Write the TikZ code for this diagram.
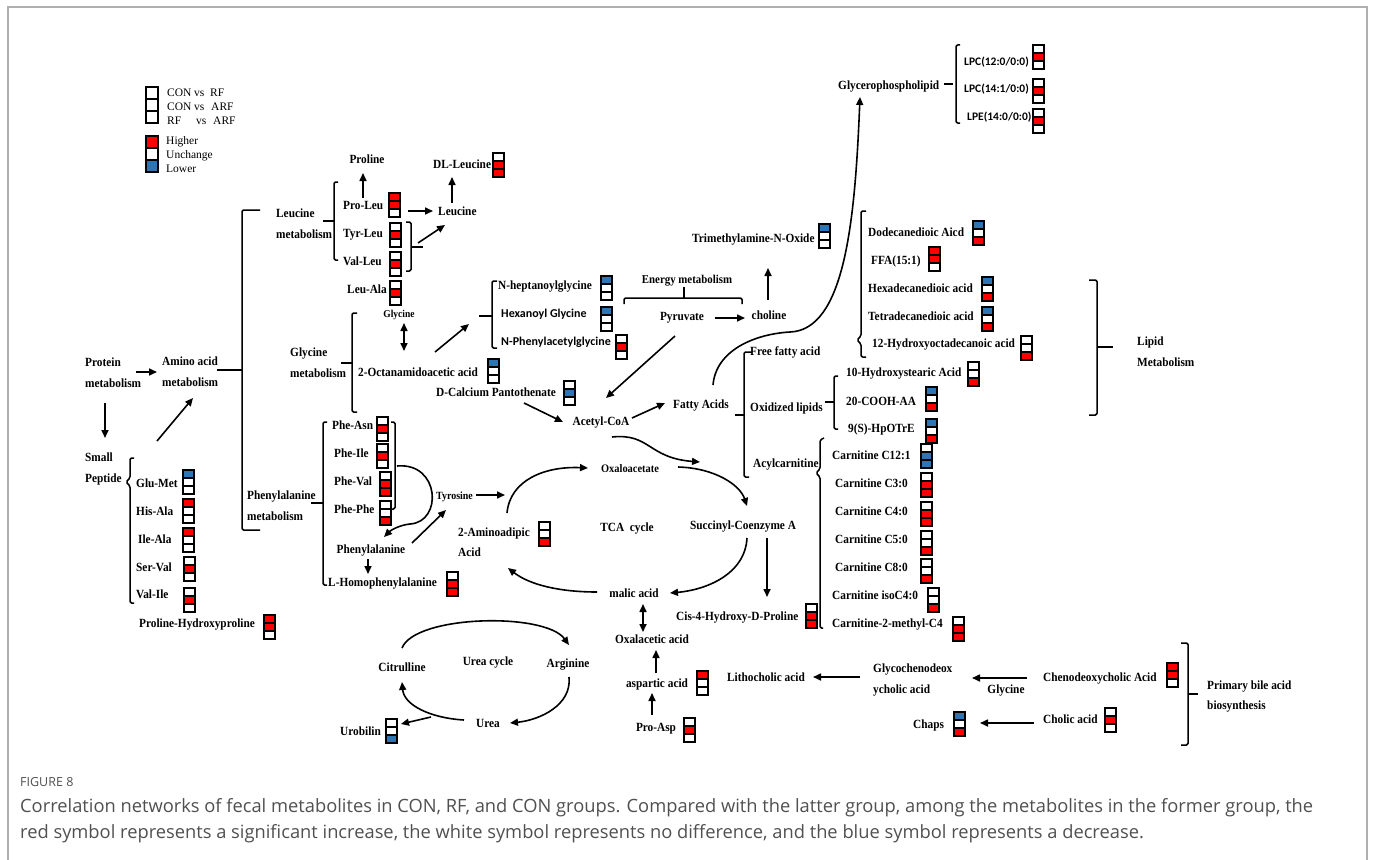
\documentclass[tikz,border=0pt]{standalone}
\usepackage{fontspec}
\setmainfont{Liberation Serif}
\newfontfamily\lbfont{Liberation Serif}[FakeStretch=0.905]
\newfontfamily\sfbold{Carlito}
\newfontfamily\capfont{Open Sans}
\usetikzlibrary{arrows.meta}
\definecolor{R}{RGB}{255,0,0}
\definecolor{W}{RGB}{255,255,255}
\definecolor{B}{RGB}{46,117,182}
\definecolor{capgray}{RGB}{80,80,80}
\definecolor{framegray}{RGB}{175,175,175}
\tikzset{
  lb/.style={font=\lbfont\fontsize{12.5}{14}\selectfont\bfseries, inner sep=0pt, text height=8.5pt, text depth=0pt, anchor=west},
  lbc/.style={lb, anchor=center},
  fs/.style={font=\lbfont\fontsize{#1}{14}\selectfont\bfseries},
  sfl/.style={lb, font=\sfbold\fontsize{12}{14}\selectfont\bfseries},
  lg/.style={font=\fontsize{11.5}{13}\selectfont, inner sep=0pt, text height=8pt, text depth=0pt, anchor=west},
  arr/.style={line width=1.6pt, -{Triangle[length=8pt,width=7pt]}},
  darr/.style={line width=1.6pt, {Triangle[length=8pt,width=7pt]}-{Triangle[length=8pt,width=7pt]}},
  brk/.style={line width=1.5pt, line join=round, rounded corners=1.5pt},
  pics/tri/.style n args={3}{code={
    \fill[#1] (0,0) rectangle (11,8);
    \fill[#2] (0,8) rectangle (11,16);
    \fill[#3] (0,16) rectangle (11,24);
    \draw[line width=1.2pt] (0,0) rectangle (11,24) (0,8) -- (11,8) (0,16) -- (11,16);
  }},
  pics/leg/.style n args={3}{code={
    \fill[#1] (0,0) rectangle (12,12);
    \fill[#2] (0,12) rectangle (12,24);
    \fill[#3] (0,24) rectangle (12,36);
    \draw[line width=1.2pt] (0,0) rectangle (12,36) (0,12) -- (12,12) (0,24) -- (12,24);
  }},
}
\begin{document}
\begin{tikzpicture}[x=1pt,y=-1pt]
\useasboundingbox (0,0) rectangle (1375,859);
\fill[white] (0,0) rectangle (1375,859);
\draw[framegray, line width=1.5pt] (8,880) -- (8,7) -- (1367,7) -- (1367,880);

% ---------- legend
\pic at (146,87) {leg={W}{W}{W}};
\pic at (146,136) {leg={R}{W}{B}};
\node[lg] (l1a) at (167,92) {CON}; \node[lg] (l1b) at (194,92) {vs}; \node[lg] (l1c) at (210,92) {RF};
\node[lg] (l2a) at (167,106) {CON}; \node[lg] (l2b) at (194,106) {vs}; \node[lg] (l2c) at (211,106) {ARF};
\node[lg] (l3a) at (167,120) {RF}; \node[lg] (l3b) at (196,120) {vs}; \node[lg] (l3c) at (213,120) {ARF};
\node[lg] (hi) at (166,140) {Higher};
\node[lg] (un) at (166,154) {Unchange};
\node[lg] (lo) at (166,168) {Lower};

% ---------- protein / amino acid
\node[lb] (prot1) at (85,362) {Protein};
\node[lb] (prot2) at (85,383) {metabolism};
\node[lb] (amino1) at (162,361) {Amino acid};
\node[lb] (amino2) at (162,382) {metabolism};
\node[lb] (small1) at (85,457) {Small};
\node[lb] (small2) at (85,478) {Peptide};
\draw[arr] (136,372) -- (157,372);
\draw[arr] (105,403) -- (105,438);
\draw[arr] (157,441) -- (193,398);

% small peptides
\draw[brk] (134,458) -- (130,458) -- (130,478) -- (126,482) -- (130,486) -- (130,603) -- (134,603);
\node[lb] (glumet) at (136,483) {Glu-Met}; \pic at (183,470) {tri={B}{W}{W}};
\node[lb] (hisala) at (136,511) {His-Ala}; \pic at (183,499) {tri={R}{W}{W}};
\node[lb] (ileala) at (138,539) {Ile-Ala}; \pic at (183,528) {tri={R}{W}{W}};
\node[lb] (serval) at (136,567) {Ser-Val}; \pic at (184,557) {tri={W}{R}{W}};
\node[lb] (valile) at (136,594) {Val-Ile}; \pic at (184,588) {tri={W}{R}{W}};
\node[lb] (prohyp) at (139,623) {Proline-Hydroxyproline}; \pic at (264,615) {tri={R}{R}{W}};

% amino acid bracket
\draw[brk] (260,210) -- (242,210) -- (242,530) -- (260,530);
\draw[brk] (217,370) -- (242,370);

% ---------- leucine
\node[lb] (leumet1) at (276,213) {Leucine};
\node[lb] (leumet2) at (276,234) {metabolism};
\draw[brk] (338,182) -- (334,182) -- (334,260) -- (338,260);
\draw[brk] (323,221) -- (334,221);
\node[lbc] (proline) at (367,159) {Proline};
\node[lb] (proleu) at (343,205) {Pro-Leu}; \pic at (389,193) {tri={R}{R}{W}};
\node[lb] (tyrleu) at (343,233) {Tyr-Leu}; \pic at (390,223) {tri={W}{R}{W}};
\node[lb] (valleu) at (343,261) {Val-Leu}; \pic at (390,252) {tri={W}{R}{W}};
\node[lb] (leuala) at (347,289) {Leu-Ala}; \pic at (390,281) {tri={W}{R}{W}};
\node[lb] (leucine) at (438,211) {Leucine};
\node[lb] (dlleu) at (433,164) {DL-Leucine}; \pic at (493,153) {tri={W}{R}{R}};
\draw[arr] (363,198) -- (363,173);
\draw[arr] (408,211) -- (433,211);
\draw[arr] (452,203) -- (452,177);
\draw[brk] (406,222) -- (411,222) -- (411,271) -- (406,271);
\draw[brk] (411,247) -- (423,247);
\draw[arr] (418,243) -- (445,225);

% ---------- glycine
\node[lb] (glymet1) at (290,352) {Glycine};
\node[lb] (glymet2) at (290,373) {metabolism};
\draw[brk] (357,313) -- (352,313) -- (352,412) -- (357,412);
\draw[brk] (341,363) -- (352,363);
\node[lbc, fs=10.5] (glycine) at (399,313) {Glycine};
\node[lb] (octan) at (358,372) {2-Octanamidoacetic acid}; \pic at (488,359) {tri={B}{W}{W}};
\draw[darr] (404,323) -- (404,351);
\draw[arr] (435,352) -- (469,324);
\draw[brk] (497,281) -- (492,281) -- (492,348) -- (497,348);
\draw[brk] (479,316) -- (492,316);
\node[lb] (nhep) at (498,285) {N-heptanoylglycine}; \pic at (601,276) {tri={B}{W}{W}};
\node[sfl] (hexgly) at (501,313) {Hexanoyl Glycine}; \pic at (601,307) {tri={B}{W}{W}};
\node[sfl] (nphen) at (501,341) {N-Phenylacetylglycine}; \pic at (616,335) {tri={W}{R}{W}};
\node[lb] (dcalc) at (436,392) {D-Calcium Pantothenate}; \pic at (564,381) {tri={W}{B}{W}};

% ---------- energy
\node[lbc, fs=12] (energy) at (687,279) {Energy metabolism};
\draw[brk] (624,304) -- (624,298) -- (742,298) -- (742,304);
\draw[brk] (684,298) -- (684,287);
\node[lbc] (pyruvate) at (682,316) {Pyruvate};
\node[lbc] (choline) at (769,315) {choline};
\node[lb] (tmao) at (692,238) {Trimethylamine-N-Oxide}; \pic at (819,224) {tri={B}{W}{W}};
\draw[arr] (715,318) -- (745,318);
\draw[arr] (768,300) -- (768,268);
\draw[arr] (675,336) -- (606,398);
\node[lbc] (acetyl) at (601,421) {Acetyl-CoA};
\node[lbc] (fatty) at (701,404) {Fatty Acids};
\draw[arr] (524,403) -- (563,422);
\draw[arr] (632,418) -- (665,403);
\draw[arr] (713,385) .. controls (716,350) and (755,334) .. (790,332) .. controls (845,330) and (855,220) .. (860,97);

% ---------- glycerophospholipid
\node[lb, fs=12.5] (glycero) at (838,85) {Glycerophospholipid};
\draw[line width=1.3pt] (944,84) -- (953,84);
\draw[brk] (960,45) -- (956,45) -- (956,123) -- (960,123);
\node[sfl, font=\sfbold\fontsize{11.5}{14}\selectfont\bfseries] (lpc12) at (964,61) {LPC(12:0/0:0)}; \pic at (1033,45) {tri={W}{R}{W}};
\node[sfl, font=\sfbold\fontsize{11.5}{14}\selectfont\bfseries] (lpc14) at (964,88) {LPC(14:1/0:0)}; \pic at (1033,79) {tri={W}{R}{W}};
\node[sfl, font=\sfbold\fontsize{11.5}{14}\selectfont\bfseries] (lpe14) at (967,116) {LPE(14:0/0:0)}; \pic at (1033,109) {tri={W}{R}{W}};

% ---------- lipids
\draw[brk] (866,211) -- (861,211) -- (861,336) -- (857,340) -- (861,344) -- (861,357) -- (866,357);
\node[lb] (dodec) at (868,232) {Dodecanedioic Aicd}; \pic at (973,221) {tri={B}{W}{R}};
\node[lb] (ffa) at (871,260) {FFA(15:1)}; \pic at (929,247) {tri={R}{R}{W}};
\node[lb] (hexadec) at (868,288) {Hexadecanedioic acid}; \pic at (982,277) {tri={B}{W}{R}};
\node[lb] (tetradec) at (868,316) {Tetradecanedioic acid}; \pic at (982,307) {tri={B}{W}{R}};
\node[lb] (hoct) at (872,343) {12-Hydroxyoctadecanoic acid}; \pic at (1021,336) {tri={W}{W}{R}};
\draw[brk] (1089,280) -- (1097,280) -- (1097,415) -- (1089,415);
\draw[brk] (1097,347) -- (1113,347);
\node[lb] (lipid1) at (1137,341) {Lipid};
\node[lb] (lipid2) at (1137,362) {Metabolism};
\node[lb] (freefa) at (750,351) {Free fatty acid};
\draw[brk] (752,352) -- (744,352) -- (744,477) -- (749,477);
\draw[brk] (735,415) -- (744,415);
\node[lb] (oxid) at (750,407) {Oxidized lipids};
\draw[brk] (838,376) -- (834,376) -- (834,429) -- (838,429);
\draw[brk] (825,402) -- (834,402);
\node[lb] (hst) at (846,372) {10-Hydroxystearic Acid}; \pic at (968,362) {tri={W}{W}{R}};
\node[lb] (cooh) at (846,401) {20-COOH-AA}; \pic at (926,387) {tri={B}{W}{R}};
\node[lb] (hpotre) at (848,428) {9(S)-HpOTrE}; \pic at (926,419) {tri={B}{W}{R}};
\node[lb] (acyl) at (753,463) {Acylcarnitine};
\draw[brk] (824,438) -- (820,440) -- (820,469) -- (816,473) -- (820,477) -- (820,628) -- (823,628);
\node[lb] (c121) at (832,455) {Carnitine C12:1}; \pic at (921,444) {tri={W}{B}{B}};
\node[lb] (c30) at (835,483) {Carnitine C3:0}; \pic at (921,473) {tri={W}{R}{R}};
\node[lb] (c40) at (835,511) {Carnitine C4:0}; \pic at (921,502) {tri={W}{R}{R}};
\node[lb] (c50) at (835,539) {Carnitine C5:0}; \pic at (921,531) {tri={W}{W}{R}};
\node[lb] (c80) at (835,567) {Carnitine C8:0}; \pic at (921,559) {tri={W}{W}{R}};
\node[lb] (ciso) at (832,595) {Carnitine isoC4:0}; \pic at (928,588) {tri={W}{W}{R}};
\node[lb] (c2m) at (832,623) {Carnitine-2-methyl-C4}; \pic at (953,617) {tri={W}{R}{R}};

% ---------- phenylalanine
\node[lb] (phemet1) at (247,495) {Phenylalanine};
\node[lb] (phemet2) at (247,516) {metabolism};
\draw[brk] (327,422) -- (323,422) -- (323,585) -- (327,585);
\draw[brk] (311,503) -- (323,503);
\node[lb] (pheasn) at (332,425) {Phe-Asn}; \pic at (377,417) {tri={W}{R}{W}};
\node[lb] (pheile) at (334,453) {Phe-Ile}; \pic at (377,444) {tri={W}{R}{W}};
\node[lb] (pheval) at (334,481) {Phe-Val}; \pic at (380,472) {tri={W}{R}{R}};
\node[lb] (phephe) at (334,509) {Phe-Phe}; \pic at (380,501) {tri={W}{W}{R}};
\draw[brk] (391,422) -- (395,422) -- (395,509) -- (391,509);
\draw[arr] (397,466) .. controls (440,462) and (443,522) .. (410,524) .. controls (400,525) and (391,530) .. (384,537);
\node[lbc] (phe) at (371,549) {Phenylalanine};
\node[lb] (lhomo) at (328,582) {L-Homophenylalanine}; \pic at (447,572) {tri={W}{R}{R}};
\draw[arr] (368,559) -- (368,574);
\draw[arr] (412,543) -- (446,510);
\node[lb, fs=11] (tyrosine) at (436,495) {Tyrosine};
\draw[arr] (476,495) -- (505,495);

% ---------- TCA
\node[lbc, fs=11.5] (oxalo) at (630,468) {Oxaloacetate};
\draw[arr] (507,513) .. controls (510,480) and (545,466) .. (588,468);
\draw[arr] (612,437) .. controls (650,433) and (648,458) .. (700,462);
\draw[arr] (678,467) .. controls (715,468) and (740,485) .. (747,506);
\node[lb] (amad1) at (458,532) {2-Aminoadipic};
\node[lb] (amad2) at (458,552) {Acid};
\pic at (539,522) {tri={W}{W}{R}};
\node[lbc] (tca) at (627,527) {TCA~ cycle};
\node[lbc] (succ) at (743,525) {Succinyl-Coenzyme A};
\draw[arr] (767,538) -- (767,597);
\draw[arr] (747,538) .. controls (745,575) and (705,590) .. (670,593);
\node[lbc] (malic) at (634,593) {malic acid};
\draw[arr] (597,592) .. controls (560,592) and (530,585) .. (508,568);
\draw[darr] (643,604) -- (643,632);
\node[lbc] (oxal) at (652,639) {Oxalacetic acid};
\node[lb] (cis4) at (676,616) {Cis-4-Hydroxy-D-Proline}; \pic at (806,604) {tri={W}{R}{R}};
\node[lbc] (asp) at (657,683) {aspartic acid}; \pic at (697,671) {tri={R}{W}{W}};
\node[lbc] (proasp) at (656,727) {Pro-Asp}; \pic at (684,718) {tri={W}{R}{W}};
\draw[arr] (656,673) -- (656,650);
\draw[arr] (652,715) -- (652,693);

% ---------- urea
\node[lbc] (citr) at (402,667) {Citrulline};
\node[lbc] (ureac) at (488,661) {Urea cycle};
\node[lbc] (arg) at (568,663) {Arginine};
\node[lbc] (urea) at (488,723) {Urea};
\node[lb] (urob) at (340,731) {Urobilin}; \pic at (386,719) {tri={W}{W}{B}};
\draw[arr] (402,648) .. controls (415,615) and (545,612) .. (569,645);
\draw[arr] (569,677) .. controls (572,705) and (540,720) .. (510,723);
\draw[arr] (464,720) .. controls (430,718) and (404,705) .. (402,682);
\draw[arr] (431,717) -- (401,724);

% ---------- bile acids
\node[lbc] (litho) at (766,677) {Lithocholic acid};
\node[lb] (glyc1) at (873,668) {Glycochenodeox};
\node[lb] (glyc2) at (873,689) {ycholic acid};
\node[lbc] (glycine2) at (1006,689) {Glycine};
\node[lb] (cheno) at (1043,677) {Chenodeoxycholic Acid}; \pic at (1167,663) {tri={R}{R}{W}};
\node[lb] (cholic) at (1043,719) {Cholic acid}; \pic at (1105,708) {tri={W}{R}{W}};
\node[lb] (chaps) at (913,724) {Chaps}; \pic at (954,712) {tri={B}{W}{R}};
\draw[arr] (860,677) -- (813,677);
\draw[arr] (1027,678) -- (972,678);
\draw[arr] (1034,723) -- (980,723);
\draw[brk] (1181,643) -- (1188,643) -- (1188,745) -- (1181,745);
\draw[brk] (1188,694) -- (1198,694);
\node[lb] (prim1) at (1207,685) {Primary bile acid};
\node[lb] (prim2) at (1207,705) {biosynthesis};

% ---------- caption
\node[anchor=west, inner sep=0pt, text=capgray, font=\capfont\fontsize{12.5}{15}\selectfont] (figlabel) at (20,782) {FIGURE 8};
\node[anchor=west, inner sep=0pt, text=capgray, font=\capfont\fontsize{18.3}{22}\selectfont] (cap1) at (20,808) {Correlation networks of fecal metabolites in CON, RF, and CON groups. Compared with the latter group, among the metabolites in the former group, the};
\node[anchor=west, inner sep=0pt, text=capgray, font=\capfont\fontsize{18.3}{22}\selectfont] (cap2) at (20,834) {red symbol represents a significant increase, the white symbol represents no difference, and the blue symbol represents a decrease.};
\end{tikzpicture}
\end{document}
